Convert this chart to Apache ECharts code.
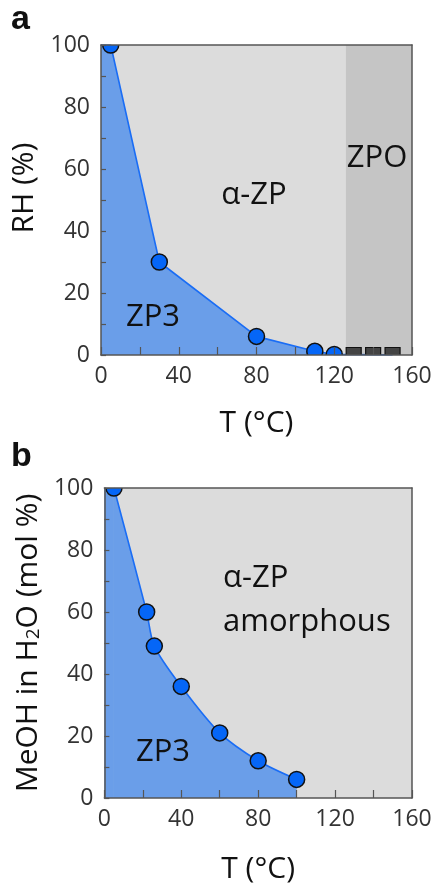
<!DOCTYPE html>
<html>
<head>
<meta charset="utf-8">
<script src="https://cdn.jsdelivr.net/npm/echarts@6/dist/echarts.min.js"></script>
<style>
  html, body { margin: 0; padding: 0; background: #fff; }
  #chart { width: 437px; height: 885px; }
</style>
</head>
<body>
<div id="chart"></div>
<script>
// panel a: RH vs T
const rhT = [5, 30, 80, 110, 120];
const rhVal = [100, 30, 6, 1.2, 0.2];
const rhEdgeStart = [0, 100];
const rhEdgeEnd = [150, 0];
const zpoT = [130, 140, 150];
const zpoVal = [0, 0, 0];
const zpoRange = [126, 160];

// panel b: MeOH in H2O vs T
const meT = [5, 22, 26, 40, 60, 80, 100];
const meVal = [100, 60, 49, 36, 21, 12, 6];
const meEdgeStart = [0, 100];

const xTicks = [0, 40, 80, 120, 160];
const yTicks = [0, 20, 40, 60, 80, 100];

const font = '"Open Sans", "DejaVu Sans", sans-serif';
const axisColor = '#555';
const fillBlue = '#6a9ee9';
const lineBlue = '#1a6df5';
const dotBlue = '#0566f7';

const chart = echarts.init(document.getElementById('chart'));

const pairs = (xs, ys) => xs.map((x, i) => [x, ys[i]]);

function dotItem(params, api) {
    const p = api.coord([api.value(0), api.value(1)]);
    return {
        type: 'circle',
        shape: {cx: p[0], cy: p[1], r: 8},
        style: {fill: dotBlue, stroke: '#111', lineWidth: 1.5}
    };
}
function squareItem(params, api) {
    const p = api.coord([api.value(0), api.value(1)]);
    return {
        type: 'rect',
        shape: {x: p[0] - 7.5, y: p[1] - 7.5, width: 15, height: 15},
        style: {fill: '#444', stroke: '#111', lineWidth: 1.2}
    };
}

function bottomAxis(grid, gap) {
    return {
        type: 'value', gridIndex: grid, min: 0, max: 160, interval: 20, z: 5,
        axisLine: {lineStyle: {color: axisColor, width: 1.5}},
        axisTick: {inside: true, length: 8, lineStyle: {color: axisColor, width: 1.2}},
        axisLabel: {
            margin: 10, fontSize: 23, color: '#333', fontFamily: font,
            formatter: v => xTicks.indexOf(v) >= 0 ? String(v) : ''
        },
        splitLine: {show: false},
        name: 'T (°C)', nameLocation: 'middle', nameGap: gap,
        nameTextStyle: {fontSize: 30, color: '#111', fontFamily: font}
    };
}
function leftAxis(grid, name, gap, extra) {
    return {
        type: 'value', gridIndex: grid, min: 0, max: 100, interval: 10, z: 5,
        axisLine: {lineStyle: {color: axisColor, width: 1.5}},
        axisTick: {inside: true, length: 5, lineStyle: {color: axisColor, width: 1.2}},
        axisLabel: {
            margin: 11, fontSize: 23, color: '#333', fontFamily: font,
            formatter: v => yTicks.indexOf(v) >= 0 ? String(v) : ''
        },
        splitLine: {show: false},
        name: name, nameLocation: 'middle', nameGap: gap,
        nameTextStyle: Object.assign({fontSize: 30, color: '#111', fontFamily: font}, extra)
    };
}
function frameAxis(kind, grid, pos) {
    return {
        type: 'value', gridIndex: grid, position: pos, z: 5,
        min: 0, max: kind === 'x' ? 160 : 100,
        axisLine: {show: true, onZero: false, lineStyle: {color: axisColor, width: 1.5}},
        axisTick: {show: false}, axisLabel: {show: false}, splitLine: {show: false}
    };
}

const regionText = (text, x, y, align) => ({
    type: 'text', x: x, y: y, z: 10,
    style: {text: text, fontSize: 31, fontFamily: font, fill: '#111', align: align || 'center', verticalAlign: 'middle'}
});
const panelText = (text, x, y) => ({
    type: 'text', x: x, y: y, z: 10,
    style: {text: text, fontSize: 34, fontWeight: 'bold', fontFamily: '"Liberation Sans", Arial, sans-serif', fill: '#111', verticalAlign: 'middle'}
});

const option = {
    animation: false,
    backgroundColor: '#fff',
    grid: [
        {left: 101, top: 45, width: 311, height: 310, show: true, backgroundColor: '#dcdcdc', borderWidth: 0},
        {left: 101, top: 488, width: 311, height: 310, show: true, backgroundColor: '#dcdcdc', borderWidth: 0}
    ],
    xAxis: [
        bottomAxis(0, 53),
        bottomAxis(1, 56),
        frameAxis('x', 0, 'top'),
        frameAxis('x', 1, 'top')
    ],
    yAxis: [
        leftAxis(0, 'RH (%)', 54, {padding: [0, 0, 0, 24]}),
        leftAxis(1, 'MeOH in H{s|2}O (mol %)', 54, {
            rich: {s: {fontSize: 19, fontFamily: font, color: '#111', verticalAlign: 'bottom', lineHeight: 19, padding: [16, 0, 0, 0]}}
        }),
        frameAxis('y', 0, 'right'),
        frameAxis('y', 1, 'right')
    ],
    series: [
        {
            type: 'line', xAxisIndex: 0, yAxisIndex: 0, z: 1, data: [], silent: true,
            markArea: {
                silent: true,
                itemStyle: {color: '#c5c5c5'},
                data: [[{xAxis: zpoRange[0]}, {xAxis: zpoRange[1]}]]
            }
        },
        {
            type: 'line', xAxisIndex: 0, yAxisIndex: 0, z: 2, symbol: 'none',
            data: [rhEdgeStart].concat(pairs(rhT, rhVal), [rhEdgeEnd]),
            lineStyle: {color: lineBlue, width: 1.6},
            areaStyle: {color: fillBlue, opacity: 1}
        },
        {
            type: 'custom', xAxisIndex: 0, yAxisIndex: 0, z: 3, clip: true,
            renderItem: squareItem, data: pairs(zpoT, zpoVal)
        },
        {
            type: 'custom', xAxisIndex: 0, yAxisIndex: 0, z: 3, clip: true,
            renderItem: dotItem, data: pairs(rhT, rhVal)
        },
        // thin strip left of the first point, so the fill reaches the axis
        {
            type: 'line', xAxisIndex: 1, yAxisIndex: 1, z: 2, symbol: 'none',
            data: [meEdgeStart, [meT[0], meVal[0]]],
            lineStyle: {width: 0},
            areaStyle: {color: fillBlue, opacity: 1}
        },
        {
            type: 'line', xAxisIndex: 1, yAxisIndex: 1, z: 2, symbol: 'none',
            smooth: 0.3,
            data: pairs(meT, meVal),
            lineStyle: {color: lineBlue, width: 1.6},
            areaStyle: {color: fillBlue, opacity: 1}
        },
        {
            type: 'custom', xAxisIndex: 1, yAxisIndex: 1, z: 3, clip: true,
            renderItem: dotItem, data: pairs(meT, meVal)
        }
    ],
    graphic: [
        panelText('a', 11, 20),
        panelText('b', 11, 457),
        regionText('α-ZP', 254, 195),
        regionText('ZPO', 377, 158),
        regionText('ZP3', 153, 317),
        regionText('α-ZP', 223, 578, 'left'),
        regionText('amorphous', 223, 622, 'left'),
        regionText('ZP3', 163, 752)
    ]
};

chart.setOption(option);
</script>
</body>
</html>
